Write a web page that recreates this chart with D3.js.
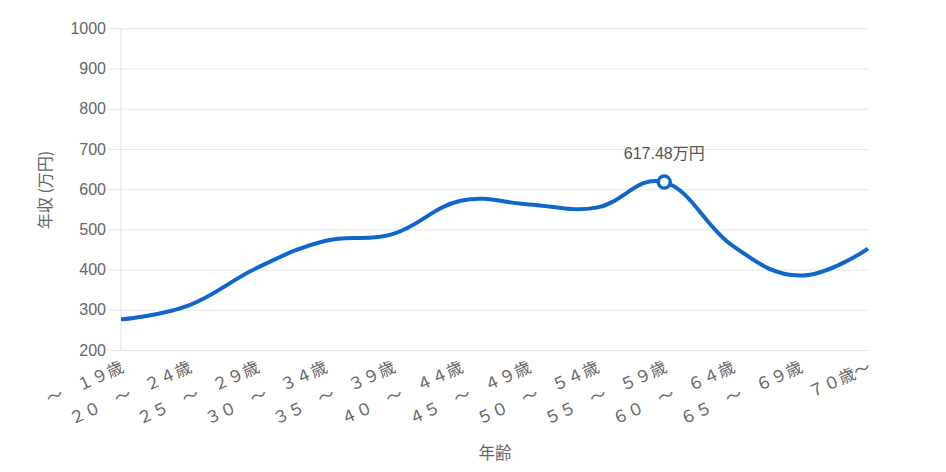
<!DOCTYPE html>
<html>
<head>
<meta charset="utf-8">
<script src="https://cdn.jsdelivr.net/npm/d3@7"></script>
<style>
  body { margin: 0; background: #fff; }
  text { font-family: "Liberation Sans", Arial, "Noto Sans CJK JP", sans-serif; }
</style>
</head>
<body>
<script>
// 年齢別の平均年収
var ages = ["～　１９歳", "２０　～　２４歳", "２５　～　２９歳", "３０　～　３４歳", "３５　～　３９歳",
            "４０　～　４４歳", "４５　～　４９歳", "５０　～　５４歳", "５５　～　５９歳", "６０　～　６４歳",
            "６５　～　６９歳", "７０歳～"];
var income = [276, 311, 404, 471, 488, 571, 562, 554, 617.48, 460, 385, 452];
var yTicks = [200, 300, 400, 500, 600, 700, 800, 900, 1000];
var peakIndex = 8;
var peakLabel = "617.48万円";

var W = 946, H = 472;
var plotLeft = 121, plotRight = 868, plotTop = 28.3, plotBottom = 350;

var svg = d3.select("body")
            .append("svg")
            .attr('width', W)
            .attr('height', H);

var xScale = d3.scalePoint()
               .domain(ages)
               .range([plotLeft, plotRight]);

var yScale = d3.scaleLinear()
               .domain([200, 1000])
               .range([plotBottom, plotTop]);

// gridlines + y axis
var yAxis = d3.axisLeft(yScale)
              .tickValues(yTicks)
              .tickSize(plotRight - plotLeft + 13)
              .tickPadding(2)
              .tickFormat(function(d){ return d; });

var gy = svg.append("g")
   .attr('transform', "translate(" + plotRight + ",0)")
   .call(yAxis);
gy.select(".domain").remove();
gy.selectAll(".tick line").attr('stroke', "#e6e6e6").attr('stroke-width', 1);
gy.selectAll(".tick text")
  .attr('fill', "#666")
  .style('font-size', "16px");

svg.append("line")
   .attr('x1', plotLeft).attr('x2', plotLeft)
   .attr('y1', plotTop).attr('y2', plotBottom)
   .attr('stroke', "#e0e0e0");

// x axis labels (rotated)
var xAxis = d3.axisBottom(xScale).tickSize(0).tickPadding(0);
var gx = svg.append("g")
   .attr('transform', "translate(0," + plotBottom + ")")
   .call(xAxis);
gx.select(".domain").remove();
gx.selectAll(".tick text")
  .attr('fill', "#666")
  .style('font-size', "16.5px")
  .style('font-family', '"Noto Sans CJK JP", sans-serif')
  .attr('text-anchor', "end")
  .attr('dy', "0.35em")
  .attr('transform', "translate(1,16) rotate(-24)");

// line
var line = d3.line()
             .x(function(d, i){ return xScale(ages[i]); })
             .y(function(d){ return yScale(d); })
             .curve(d3.curveCardinal.tension(-0.2));

svg.append("path")
   .datum(income)
   .attr('d', line)
   .attr('fill', "none")
   .attr('stroke', "#0f67cc")
   .attr('stroke-width', 4)
   .attr('stroke-linejoin', "round");

// peak marker
svg.append("circle")
   .attr('cx', xScale(ages[peakIndex]))
   .attr('cy', yScale(income[peakIndex]))
   .attr('r', 6)
   .attr('fill', "#fff")
   .attr('stroke', "#0f67cc")
   .attr('stroke-width', 3.5);

svg.append("text")
   .attr('x', xScale(ages[peakIndex]))
   .attr('y', yScale(income[peakIndex]) - 23)
   .attr('text-anchor', "middle")
   .attr('fill', "#555")
   .style('font-size', "16px")
   .style('font-family', '"Liberation Sans", "Noto Sans CJK JP", sans-serif')
   .text(peakLabel);

// axis titles
svg.append("text")
   .attr('transform', "translate(51,190) rotate(-90)")
   .attr('text-anchor', "middle")
   .attr('fill', "#666")
   .style('font-size', "16px")
   .style('font-family', '"Noto Sans CJK JP", sans-serif')
   .text("年収 (万円)");

svg.append("text")
   .attr('x', 495)
   .attr('y', 459)
   .attr('text-anchor', "middle")
   .attr('fill', "#666")
   .style('font-size', "16.5px")
   .style('font-family', '"Noto Sans CJK JP", sans-serif')
   .text("年齢");
</script>
</body>
</html>
